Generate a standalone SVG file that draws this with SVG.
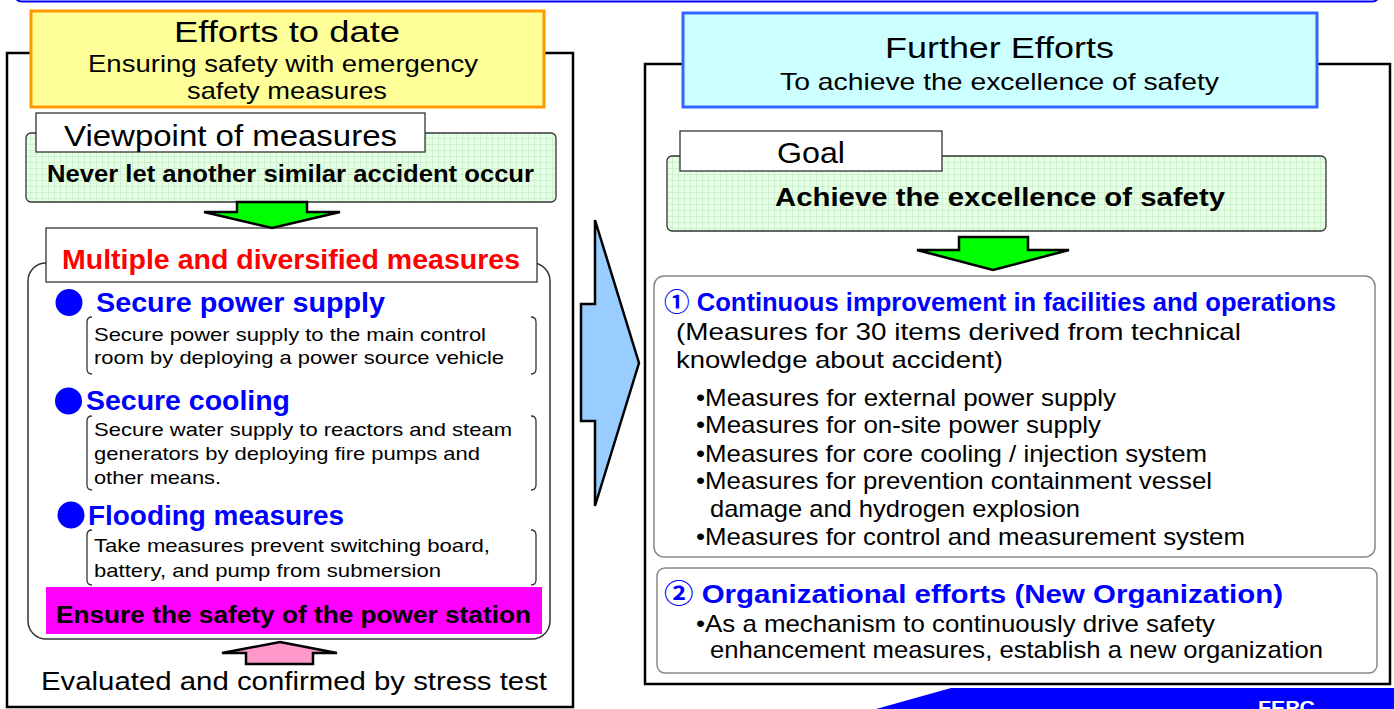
<svg xmlns="http://www.w3.org/2000/svg" width="1394" height="709" viewBox="0 0 1394 709">
<style>
text{font-family:"Liberation Sans",Arial,"Noto Sans CJK JP",sans-serif;fill:#000}
.b{font-weight:bold}
.blue{fill:#0000FF}
.frame{fill:#fff;stroke:#000;stroke-width:2.5}
.label{fill:#fff;stroke:#333;stroke-width:1.3}
.gbox{fill:url(#grid);stroke:#333;stroke-width:1.3}
.bkt{fill:none;stroke:#333;stroke-width:1.3}
.rbox{fill:#fff;stroke:#888;stroke-width:1.5}
.garrow{fill:#00FF00;stroke:#000;stroke-width:2.5;stroke-linejoin:miter}
</style>
<defs>
<pattern id="grid" width="6" height="6" patternUnits="userSpaceOnUse">
<rect width="6" height="6" fill="#E6FFE6"/>
<path d="M0 0.5H6M0.5 0V6" stroke="#C8EEC8" stroke-width="0.8"/>
</pattern>
</defs>
<rect width="1394" height="709" fill="#fff"/>
<rect x="14" y="-40" width="1366" height="41.5" rx="8" fill="none" stroke="#0000FF" stroke-width="2"/>

<g id="left-panel">
<rect class="frame" x="7" y="53" width="566" height="654"/>
</g>
<g id="left-header">
<rect x="31" y="11" width="513" height="96" fill="#FFFF99" stroke="#FF9900" stroke-width="3"/>
<text x="174" y="42" font-size="30" textLength="226" lengthAdjust="spacingAndGlyphs">Efforts to date</text>
<text x="88" y="72" font-size="24" textLength="390" lengthAdjust="spacingAndGlyphs">Ensuring safety with emergency</text>
<text x="187" y="99" font-size="24" textLength="200" lengthAdjust="spacingAndGlyphs">safety measures</text>
</g>
<g id="viewpoint">
<rect class="gbox" x="26" y="133" width="530" height="69" rx="5"/>
<rect class="label" x="36" y="113" width="389" height="39"/>
<text x="64" y="146" font-size="29" textLength="333" lengthAdjust="spacingAndGlyphs">Viewpoint of measures</text>
<text class="b" x="47" y="182" font-size="23" textLength="487" lengthAdjust="spacingAndGlyphs">Never let another similar accident occur</text>
</g>
<g id="measures">
<rect x="28" y="263" width="522" height="376" rx="18" fill="#fff" stroke="#333" stroke-width="1.5"/>
<rect class="label" x="46" y="228" width="491" height="54"/>
<text class="b" x="62" y="269" font-size="28" fill="#FF0000" style="fill:#FF0000" textLength="458" lengthAdjust="spacingAndGlyphs">Multiple and diversified measures</text>
</g>
<g id="power-supply">
<circle cx="69" cy="302.5" r="13.5" fill="#0000FF"/>
<text class="b blue" x="96" y="312" font-size="27" textLength="289" lengthAdjust="spacingAndGlyphs">Secure power supply</text>
<path class="bkt" d="M92 317Q87 317 87 322V369Q87 374 92 374M531 317Q536 317 536 322V369Q536 374 531 374"/>
<text x="94" y="341" font-size="19" textLength="392" lengthAdjust="spacingAndGlyphs">Secure power supply to the main control</text>
<text x="94" y="364" font-size="19" textLength="410" lengthAdjust="spacingAndGlyphs">room by deploying a power source vehicle</text>
</g>
<g id="cooling">
<circle cx="68.5" cy="401" r="13.5" fill="#0000FF"/>
<text class="b blue" x="86" y="410" font-size="27" textLength="204" lengthAdjust="spacingAndGlyphs">Secure cooling</text>
<path class="bkt" d="M92 416Q87 416 87 421V485Q87 490 92 490M531 416Q536 416 536 421V485Q536 490 531 490"/>
<text x="94" y="436" font-size="19" textLength="418" lengthAdjust="spacingAndGlyphs">Secure water supply to reactors and steam</text>
<text x="94" y="460" font-size="19" textLength="386" lengthAdjust="spacingAndGlyphs">generators by deploying fire pumps and</text>
<text x="94" y="484" font-size="19" textLength="127" lengthAdjust="spacingAndGlyphs">other means.</text>
</g>
<g id="flooding">
<circle cx="71" cy="515" r="13.5" fill="#0000FF"/>
<text class="b blue" x="88" y="525" font-size="27" textLength="256" lengthAdjust="spacingAndGlyphs">Flooding measures</text>
<path class="bkt" d="M92 530Q87 530 87 535V580Q87 585 92 585M531 530Q536 530 536 535V580Q536 585 531 585"/>
<text x="94" y="552" font-size="19" textLength="396" lengthAdjust="spacingAndGlyphs">Take measures prevent switching board,</text>
<text x="94" y="577" font-size="19" textLength="347" lengthAdjust="spacingAndGlyphs">battery, and pump from submersion</text>
</g>
<g id="ensure-safety">
<rect x="46" y="587" width="496" height="47" fill="#FF00FF"/>
<text class="b" x="56" y="623" font-size="23" textLength="475" lengthAdjust="spacingAndGlyphs">Ensure the safety of the power station</text>
</g>
<g id="stress-test">
<text x="41" y="690" font-size="26" textLength="506" lengthAdjust="spacingAndGlyphs">Evaluated and confirmed by stress test</text>
</g>

<g id="right-panel">
<rect class="frame" x="645" y="64" width="745" height="620"/>
</g>
<g id="right-header">
<rect x="683" y="13" width="634" height="94" fill="#CCFFFF" stroke="#3366FF" stroke-width="3"/>
<text x="885" y="58" font-size="30" textLength="229" lengthAdjust="spacingAndGlyphs">Further Efforts</text>
<text x="780" y="90" font-size="24" textLength="439" lengthAdjust="spacingAndGlyphs">To achieve the excellence of safety</text>
</g>
<g id="goal">
<rect class="gbox" x="667" y="156" width="659" height="75" rx="5"/>
<rect class="label" x="680" y="131" width="262" height="40"/>
<text x="777" y="163" font-size="29" textLength="68" lengthAdjust="spacingAndGlyphs">Goal</text>
<text class="b" x="775" y="206" font-size="25" textLength="450" lengthAdjust="spacingAndGlyphs">Achieve the excellence of safety</text>
</g>
<g id="continuous-improvement">
<rect class="rbox" x="654" y="276" width="721" height="281" rx="10"/>
<text class="b blue" x="664" y="311" font-size="25" textLength="672" lengthAdjust="spacingAndGlyphs">① Continuous improvement in facilities and operations</text>
<text x="676" y="340" font-size="24" textLength="565" lengthAdjust="spacingAndGlyphs">(Measures for 30 items derived from technical</text>
<text x="676" y="368" font-size="24" textLength="327" lengthAdjust="spacingAndGlyphs">knowledge about accident)</text>
<text x="696" y="406" font-size="24" textLength="420" lengthAdjust="spacingAndGlyphs">•Measures for external power supply</text>
<text x="696" y="433" font-size="24" textLength="405" lengthAdjust="spacingAndGlyphs">•Measures for on-site power supply</text>
<text x="696" y="462" font-size="24" textLength="511" lengthAdjust="spacingAndGlyphs">•Measures for core cooling / injection system</text>
<text x="696" y="489" font-size="24" textLength="516" lengthAdjust="spacingAndGlyphs">•Measures for prevention containment vessel</text>
<text x="710" y="517" font-size="24" textLength="370" lengthAdjust="spacingAndGlyphs">damage and hydrogen explosion</text>
<text x="696" y="545" font-size="24" textLength="549" lengthAdjust="spacingAndGlyphs">•Measures for control and measurement system</text>
</g>
<g id="organizational-efforts">
<rect class="rbox" x="657" y="568" width="720" height="105" rx="8"/>
<text class="b blue" x="664" y="603" font-size="26" textLength="619" lengthAdjust="spacingAndGlyphs">② Organizational efforts (New Organization)</text>
<text x="696" y="632" font-size="24" textLength="519" lengthAdjust="spacingAndGlyphs">•As a mechanism to continuously drive safety</text>
<text x="710" y="658" font-size="24" textLength="613" lengthAdjust="spacingAndGlyphs">enhancement measures, establish a new organization</text>
</g>

<g id="connectors">
<polygon class="garrow" points="237,202 307,202 307,212 340,212 272,228 204,212 237,212"/>
<polygon class="garrow" points="959,237 1028,237 1028,250 1069,250 993,270 917,250 959,250"/>
<polygon points="280,642 337,653 313,653 313,664 246,664 246,653 222,653" fill="#FF99CC" stroke="#000" stroke-width="2.5"/>
<polygon points="595,220 639,363 595,506 595,421 581,421 581,304 595,304" fill="#99CCFF" stroke="#000" stroke-width="2.5"/>
</g>

<g id="footer">
<polygon points="876,709 951,688 1394,688 1394,709" fill="#0000FF"/>
<text class="b" x="1258" y="714" font-size="18" style="fill:#fff" textLength="57" lengthAdjust="spacingAndGlyphs">FEPC</text>
</g>
</svg>
